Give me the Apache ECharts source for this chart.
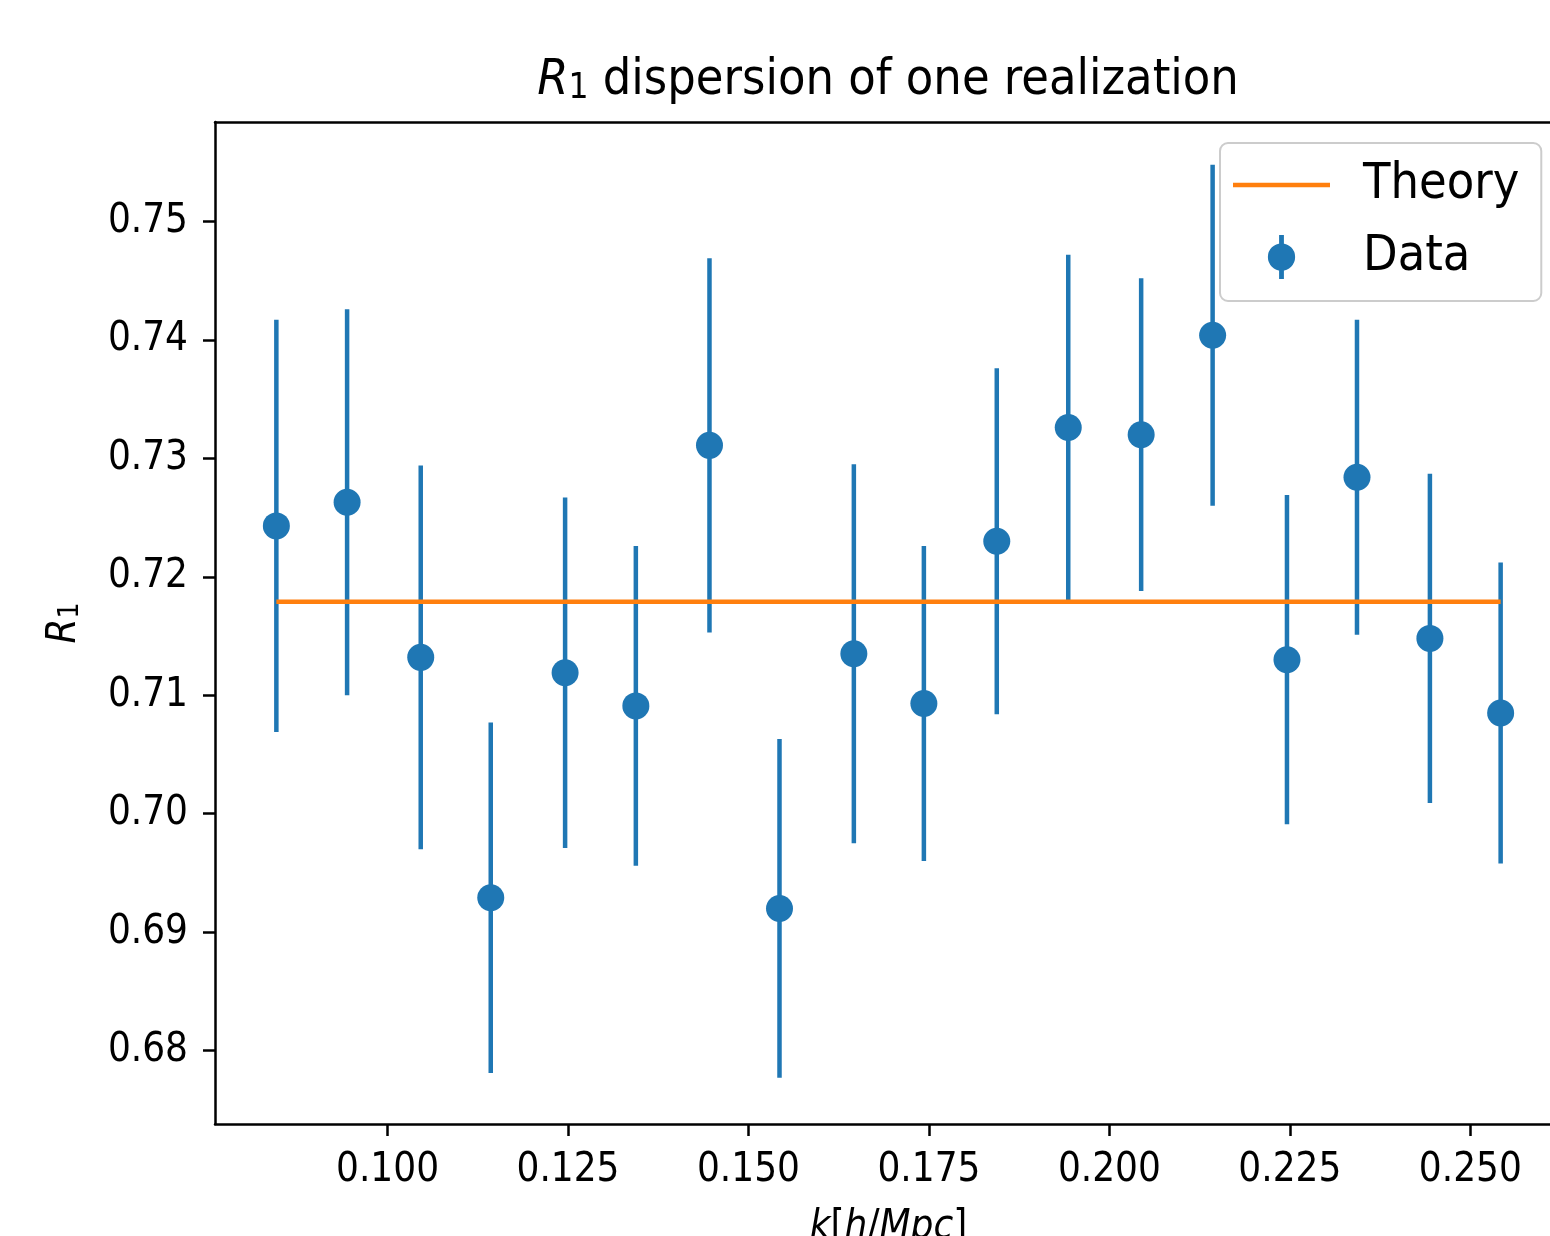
<!DOCTYPE html>
<html>
<head>
<meta charset="utf-8">
<script src="https://cdn.jsdelivr.net/npm/echarts@6/dist/echarts.min.js"></script>
<style>
  html, body { margin: 0; padding: 0; background: #ffffff; }
  #chart { width: 1550px; height: 1236px; }
</style>
</head>
<body>
<div id="chart"></div>
<script>
// Wavenumber bins k [h/Mpc]
const kValues = [0.0846, 0.0944, 0.1046, 0.1143, 0.1246, 0.1344, 0.1446, 0.1543, 0.1646,
                 0.1743, 0.1844, 0.1943, 0.2044, 0.2143, 0.2246, 0.2343, 0.2444, 0.2542];
// Measured R1 in each bin and its 1-sigma error
const r1Values = [0.7243, 0.7263, 0.7132, 0.6929, 0.7119, 0.7091, 0.7311, 0.6920, 0.7135,
                  0.7093, 0.7230, 0.7326, 0.7320, 0.7404, 0.7130, 0.7284, 0.7148, 0.7085];
const r1Errors = [0.0174, 0.0163, 0.0162, 0.0148, 0.0148, 0.0135, 0.0158, 0.0143, 0.0160,
                  0.0133, 0.0146, 0.0146, 0.0132, 0.0144, 0.0139, 0.0133, 0.0139, 0.0127];
// Theoretical prediction
const theoryR1 = [0.7179, 0.7179, 0.7179, 0.7179, 0.7179, 0.7179, 0.7179, 0.7179, 0.7179,
                  0.7179, 0.7179, 0.7179, 0.7179, 0.7179, 0.7179, 0.7179, 0.7179, 0.7179];
// Tick positions
const xTicks = [0.100, 0.125, 0.150, 0.175, 0.200, 0.225, 0.250];
const yTicks = [0.68, 0.69, 0.70, 0.71, 0.72, 0.73, 0.74, 0.75];

const FONT = '"DejaVu Sans Condensed", "DejaVu Sans", sans-serif';
const BLUE = '#1f77b4';
const ORANGE = '#ff7f0e';
const X_MIN = 0.0761, X_MAX = 0.2627;

const errorData = kValues.map((k, i) => [k, r1Values[i] - r1Errors[i], r1Values[i] + r1Errors[i]]);
const pointData = kValues.map((k, i) => [k, r1Values[i]]);
const theoryData = kValues.map((k, i) => [k, theoryR1[i]]);

const spine = { show: true, onZero: false, lineStyle: { color: '#000000', width: 2.5 } };

const chart = echarts.init(document.getElementById('chart'), null, { renderer: 'canvas' });

chart.setOption({
  animation: false,
  backgroundColor: '#ffffff',
  title: {
    text: '{i|R}{s|1} dispersion of one realization',
    left: 888,
    textAlign: 'center',
    top: 56,
    padding: 0,
    textStyle: {
      fontFamily: FONT,
      fontSize: 50,
      fontWeight: 'normal',
      color: '#000000',
      rich: {
        i: { fontFamily: FONT, fontSize: 50, fontStyle: 'italic', color: '#000000', lineHeight: 50 },
        s: { fontFamily: FONT, fontSize: 35, color: '#000000', lineHeight: 14, verticalAlign: 'bottom' }
      }
    }
  },
  legend: {
    orient: 'vertical',
    left: 1220,
    top: 143,
    itemWidth: 97,
    itemHeight: 44,
    itemGap: 22,
    padding: [17, 22, 19, 13],
    selectedMode: false,
    symbolKeepAspect: true,
    backgroundColor: 'rgba(255,255,255,0.8)',
    borderColor: '#cccccc',
    borderWidth: 2,
    borderRadius: 8,
    textStyle: { fontFamily: FONT, fontSize: 50, lineHeight: 44, color: '#000000', padding: [0, 0, 0, 28] },
    data: [
      { name: 'Theory', icon: 'path://M0,0H97V4.5H0Z', itemStyle: { color: ORANGE, borderWidth: 0 } },
      {
        name: 'Data',
        icon: 'path://M-2.3,-21H2.3V21H-2.3Z M-13,0A13,13,0,1,1,13,0A13,13,0,1,1,-13,0Z',
        itemStyle: { color: BLUE, borderWidth: 0 }
      }
    ]
  },
  grid: {
    left: 215,
    top: 122,
    right: -12,
    bottom: 112,
    containLabel: false,
    outerBoundsMode: 'none',
    show: false
  },
  xAxis: [
    {
      type: 'value',
      position: 'bottom',
      min: X_MIN,
      max: X_MAX,
      name: '{i|k}[{i|h}/{i|Mpc}]',
      nameLocation: 'middle',
      nameGap: 84,
      nameTextStyle: {
        fontFamily: FONT, fontSize: 40, color: '#000000',
        rich: { i: { fontFamily: FONT, fontSize: 40, fontStyle: 'italic', color: '#000000' } }
      },
      axisLine: spine,
      splitLine: { show: false },
      axisTick: {
        show: true, inside: false, length: 12,
        lineStyle: { color: '#000000', width: 2.5 },
        customValues: xTicks
      },
      axisLabel: {
        show: true, margin: 27,
        fontFamily: FONT, fontSize: 40, color: '#000000',
        customValues: xTicks,
        formatter: v => v.toFixed(3)
      }
    },
    {
      // top spine of the axes frame
      type: 'value',
      position: 'top',
      min: X_MIN,
      max: X_MAX,
      axisLine: spine,
      axisTick: { show: false },
      axisLabel: { show: false },
      splitLine: { show: false }
    }
  ],
  yAxis: {
    type: 'value',
    min: 0.6738,
    max: 0.7584,
    name: '{i|R}{s|1}',
    nameLocation: 'middle',
    nameRotate: 90,
    nameGap: 130,
    nameTextStyle: {
      fontFamily: FONT, fontSize: 40, color: '#000000',
      rich: {
        i: { fontFamily: FONT, fontSize: 40, fontStyle: 'italic', color: '#000000', lineHeight: 40 },
        s: { fontFamily: FONT, fontSize: 28, color: '#000000', lineHeight: 11, verticalAlign: 'bottom' }
      }
    },
    axisLine: spine,
    splitLine: { show: false },
    axisTick: {
      show: true, inside: false, length: 12,
      lineStyle: { color: '#000000', width: 2.5 },
      customValues: yTicks
    },
    axisLabel: {
      show: true, margin: 27,
      fontFamily: FONT, fontSize: 40, color: '#000000',
      customValues: yTicks,
      formatter: v => v.toFixed(2)
    }
  },
  series: [
    {
      type: 'custom',
      name: 'Data',
      data: errorData,
      encode: { x: 0, y: [1, 2] },
      z: 2,
      silent: true,
      renderItem: (params, api) => {
        const k = api.value(0);
        const lo = api.coord([k, api.value(1)]);
        const hi = api.coord([k, api.value(2)]);
        return {
          type: 'line',
          shape: { x1: lo[0], y1: lo[1], x2: hi[0], y2: hi[1] },
          style: { stroke: BLUE, lineWidth: 4.5 }
        };
      }
    },
    {
      type: 'line',
      name: 'Theory',
      data: theoryData,
      symbol: 'none',
      z: 3,
      lineStyle: { color: ORANGE, width: 4.5 },
      itemStyle: { color: ORANGE }
    },
    {
      type: 'scatter',
      name: 'Data',
      data: pointData,
      symbol: 'circle',
      symbolSize: 27,
      z: 4,
      itemStyle: { color: BLUE, opacity: 1 }
    }
  ]
});
</script>
</body>
</html>
